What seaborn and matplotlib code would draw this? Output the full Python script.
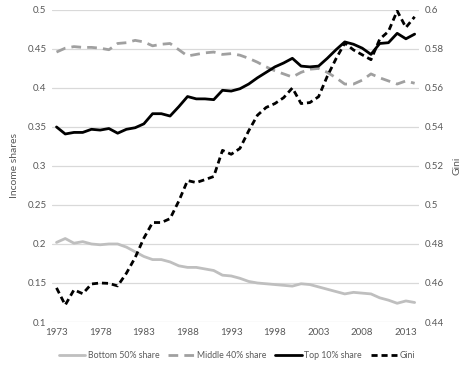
import numpy as np
import pandas as pd
import matplotlib
matplotlib.use("Agg")
import matplotlib.pyplot as plt
import seaborn as sns

years = list(range(1973, 2015))

bottom50 = [0.202, 0.207, 0.201, 0.203, 0.200, 0.199, 0.200, 0.200, 0.196, 0.190,
            0.184, 0.180, 0.180, 0.177, 0.172, 0.170, 0.170, 0.168, 0.166, 0.160,
            0.159, 0.156, 0.152, 0.150, 0.149, 0.148, 0.147, 0.146, 0.149, 0.148,
            0.145, 0.142, 0.139, 0.136, 0.138, 0.137, 0.136, 0.131, 0.128, 0.124,
            0.127, 0.125]

middle40 = [0.446, 0.451, 0.453, 0.452, 0.452, 0.451, 0.449, 0.457, 0.458, 0.461,
            0.459, 0.454, 0.456, 0.457, 0.449, 0.441, 0.443, 0.445, 0.446, 0.443,
            0.444, 0.442, 0.438, 0.433, 0.427, 0.422, 0.418, 0.414, 0.420, 0.424,
            0.425, 0.420, 0.413, 0.405, 0.405, 0.410, 0.418, 0.413, 0.409, 0.405,
            0.409, 0.406]

top10 = [0.350, 0.341, 0.343, 0.343, 0.347, 0.346, 0.348, 0.342, 0.347, 0.349,
         0.354, 0.367, 0.367, 0.364, 0.376, 0.389, 0.386, 0.386, 0.385, 0.397,
         0.396, 0.399, 0.405, 0.413, 0.420, 0.427, 0.432, 0.438, 0.428, 0.427,
         0.428, 0.438, 0.449, 0.459, 0.456, 0.451, 0.443, 0.457, 0.458, 0.470,
         0.463, 0.469]

gini = [0.4575, 0.4487, 0.4565, 0.4545, 0.4595, 0.4600, 0.4598, 0.4585, 0.4650, 0.4730,
        0.4830, 0.4910, 0.4910, 0.4930, 0.5020, 0.5125, 0.5115, 0.5130, 0.5146, 0.5280,
        0.5260, 0.5290, 0.5380, 0.5460, 0.5500, 0.5520, 0.5550, 0.5600, 0.5520, 0.5525,
        0.5555, 0.5660, 0.5750, 0.5830, 0.5795, 0.5770, 0.5745, 0.5850, 0.5890, 0.5995,
        0.5910, 0.5965]

df = pd.DataFrame({"Year": years, "Bottom 50% share": bottom50,
                   "Middle 40% share": middle40, "Top 10% share": top10, "Gini": gini})

sns.set_theme(style="white")
plt.rcParams["font.family"] = ["Lato", "DejaVu Sans"]
text_col = "#595959"

fig, ax = plt.subplots(figsize=(4.74, 3.68), dpi=100)
fig.subplots_adjust(left=0.11, right=0.884, top=0.973, bottom=0.125)
ax2 = ax.twinx()

sns.lineplot(data=df, x="Year", y="Bottom 50% share", ax=ax, color="#BFBFBF",
             linewidth=2, label="Bottom 50% share", legend=False)
sns.lineplot(data=df, x="Year", y="Middle 40% share", ax=ax, color="#A0A0A0",
             linewidth=2, label="Middle 40% share", legend=False)
ax.lines[-1].set_dashes([3.5, 2.2])
sns.lineplot(data=df, x="Year", y="Top 10% share", ax=ax, color="black",
             linewidth=2, label="Top 10% share", legend=False)
sns.lineplot(data=df, x="Year", y="Gini", ax=ax2, color="black",
             linewidth=2, label="Gini", legend=False)
ax2.lines[-1].set_dashes([2.2, 1.4])

ax.set_xlim(1972.5, 2014.5)
ax.set_ylim(0.1, 0.5)
ax2.set_ylim(0.44, 0.6)
ax.set_yticks(np.arange(0.1, 0.501, 0.05))
ax.set_yticklabels(["0.1", "0.15", "0.2", "0.25", "0.3", "0.35", "0.4", "0.45", "0.5"])
ax2.set_yticks(np.arange(0.44, 0.601, 0.02))
ax2.set_yticklabels(["0.44", "0.46", "0.48", "0.5", "0.52", "0.54", "0.56", "0.58", "0.6"])
ax.set_xticks(list(range(1973, 2014, 5)))

ax.grid(axis="y", color="#D9D9D9", linewidth=0.9)
ax.set_axisbelow(True)
for a in (ax, ax2):
    for s in a.spines.values():
        s.set_visible(False)
    a.tick_params(axis="both", length=0, labelsize=7, labelcolor=text_col, pad=4)

ax.set_xlabel("")
ax.set_ylabel("Income shares", fontsize=7.5, color=text_col, labelpad=6)
ax2.set_ylabel("Gini", fontsize=7.5, color=text_col, labelpad=6)

handles = ax.get_lines()[:3] + [ax2.get_lines()[0]]
labels = ["Bottom 50% share", "Middle 40% share", "Top 10% share", "Gini"]
fig.legend(handles, labels, loc="lower center", bbox_to_anchor=(0.5, 0.0), ncol=4,
           frameon=False, fontsize=6.3, handlelength=3.0, columnspacing=1.0,
           handletextpad=0.3, labelcolor=text_col)

fig.savefig("out.png", dpi=100)
